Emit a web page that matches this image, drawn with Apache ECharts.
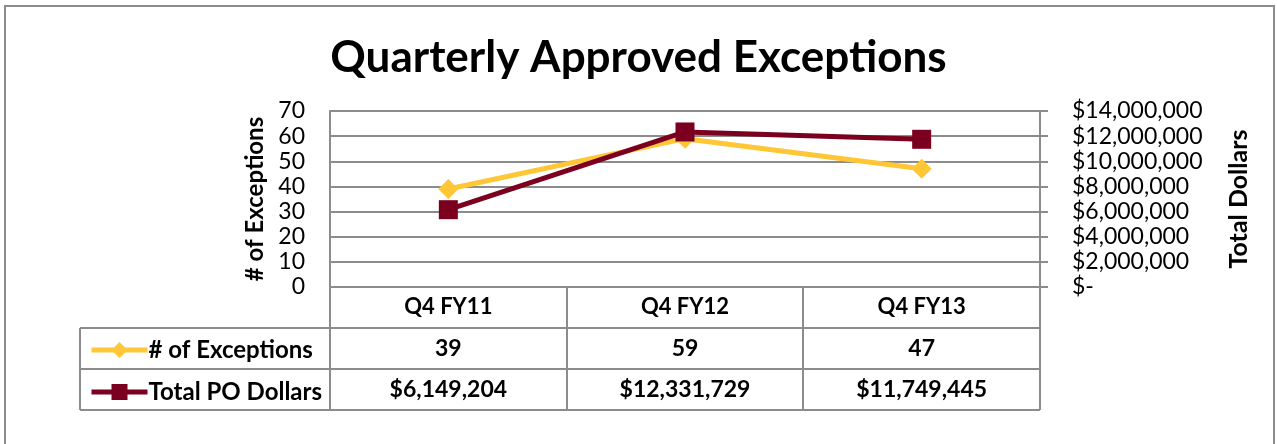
<!DOCTYPE html>
<html>
<head>
<meta charset="utf-8">
<script src="https://cdn.jsdelivr.net/npm/echarts@6/dist/echarts.min.js"></script>
<style>
html,body{margin:0;padding:0;background:#fff;}
#c{width:1277px;height:444px;}
</style>
</head>
<body>
<div id="c"></div>
<script>
const categories = ['Q4 FY11', 'Q4 FY12', 'Q4 FY13'];
const exceptions = [39, 59, 47];
const poDollars = [6149204, 12331729, 11749445];
const seriesNames = ['# of Exceptions', 'Total PO Dollars'];

const FONT = 'Lato, "Open Sans", sans-serif';
const YELLOW = '#FFC636';
const MAROON = '#7B0020';
const GRID_C = '#8c8c8c';

function money(v) {
  return '$' + Math.round(v).toString().replace(/\B(?=(\d{3})+(?!\d))/g, ',');
}
function moneyAxis(v) {
  return v === 0 ? '$-' : money(v);
}

const chart = echarts.init(document.getElementById('c'), null, {renderer: 'canvas'});

const tableAxisBase = {
  type: 'category',
  position: 'bottom',
  boundaryGap: true,
  axisLine: {show: false},
  axisTick: {show: false},
  axisLabel: {color: '#000', fontFamily: FONT, fontWeight: 'bold', fontSize: 23, margin: 9}
};

chart.setOption({
  animation: false,
  backgroundColor: '#fff',
  title: {
    text: 'Quarterly Approved Exceptions',
    left: 'center',
    top: 31,
    textStyle: {fontFamily: FONT, fontWeight: 'bold', fontSize: 44, color: '#000'}
  },
  legend: {
    orient: 'vertical',
    left: 84,
    top: 333,
    itemGap: 18,
    itemWidth: 56,
    itemHeight: 20,
    data: seriesNames,
    lineStyle: {width: 5},
    textStyle: {fontFamily: FONT, fontWeight: 'bold', fontSize: 24, color: '#000', padding: [0, 0, 0, -4], lineHeight: 23},
    selectedMode: false
  },
  grid: {left: 330, right: 237, top: 111, bottom: 157, containLabel: false},
  xAxis: [
    {
      type: 'category',
      data: categories,
      boundaryGap: true,
      axisLine: {lineStyle: {color: GRID_C, width: 2}},
      axisTick: {show: false},
      axisLabel: {color: '#000', fontFamily: FONT, fontWeight: 'bold', fontSize: 22, margin: 9}
    },
    Object.assign({}, tableAxisBase, {data: exceptions.map(String), offset: 41, gridIndex: 0}),
    Object.assign({}, tableAxisBase, {data: poDollars.map(money), offset: 82, gridIndex: 0})
  ],
  yAxis: [
    {
      type: 'value',
      min: 0, max: 70, interval: 10,
      name: '# of Exceptions',
      nameLocation: 'middle',
      nameGap: 60,
      nameRotate: 90,
      nameTextStyle: {fontFamily: FONT, fontWeight: 'bold', fontSize: 24, color: '#000'},
      axisLine: {show: true, lineStyle: {color: GRID_C, width: 2}},
      axisTick: {show: false},
      splitLine: {lineStyle: {color: GRID_C, width: 2}},
      axisLabel: {color: '#000', fontFamily: FONT, fontSize: 23, margin: 25}
    },
    {
      type: 'value',
      min: 0, max: 14000000, interval: 2000000,
      position: 'right',
      name: 'Total Dollars',
      nameLocation: 'middle',
      nameGap: 186,
      nameRotate: 90,
      nameTextStyle: {fontFamily: FONT, fontWeight: 'bold', fontSize: 25, color: '#000'},
      axisLine: {show: true, lineStyle: {color: GRID_C, width: 2}},
      axisTick: {show: true, length: 8, lineStyle: {color: GRID_C, width: 2}},
      splitLine: {show: false},
      axisLabel: {color: '#000', fontFamily: FONT, fontSize: 23, margin: 32, formatter: moneyAxis}
    }
  ],
  series: [
    {
      name: seriesNames[0],
      type: 'line',
      yAxisIndex: 0,
      data: exceptions,
      symbol: 'diamond',
      symbolSize: 20,
      lineStyle: {color: YELLOW, width: 5},
      itemStyle: {color: YELLOW},
      z: 2
    },
    {
      name: seriesNames[1],
      type: 'line',
      yAxisIndex: 1,
      data: poDollars,
      symbol: 'rect',
      symbolSize: 19,
      lineStyle: {color: MAROON, width: 5},
      itemStyle: {color: MAROON},
      z: 3
    }
  ],
  graphic: [
    {type: 'rect', shape: {x: 5, y: 6, width: 1269, height: 460}, style: {fill: null, stroke: '#8c8c8c', lineWidth: 2}, z: -1, silent: true},
    {type: 'line', shape: {x1: 80, y1: 328, x2: 1040, y2: 328}, style: {stroke: GRID_C, lineWidth: 2}},
    {type: 'line', shape: {x1: 80, y1: 369, x2: 1040, y2: 369}, style: {stroke: GRID_C, lineWidth: 2}},
    {type: 'line', shape: {x1: 80, y1: 410, x2: 1040, y2: 410}, style: {stroke: GRID_C, lineWidth: 2}},
    {type: 'line', shape: {x1: 80, y1: 328, x2: 80, y2: 410}, style: {stroke: GRID_C, lineWidth: 2}},
    {type: 'line', shape: {x1: 330, y1: 287, x2: 330, y2: 410}, style: {stroke: GRID_C, lineWidth: 2}},
    {type: 'line', shape: {x1: 567, y1: 287, x2: 567, y2: 410}, style: {stroke: GRID_C, lineWidth: 2}},
    {type: 'line', shape: {x1: 803, y1: 287, x2: 803, y2: 410}, style: {stroke: GRID_C, lineWidth: 2}},
    {type: 'line', shape: {x1: 1040, y1: 287, x2: 1040, y2: 410}, style: {stroke: GRID_C, lineWidth: 2}}
  ]
});
</script>
</body>
</html>
